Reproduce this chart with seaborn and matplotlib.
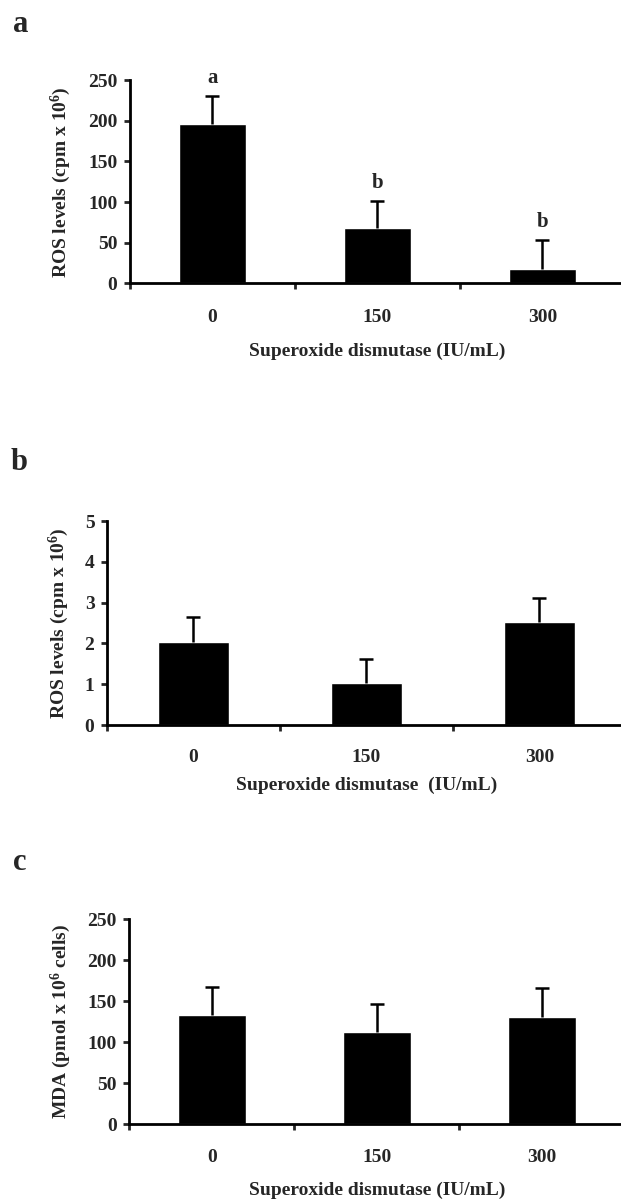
import numpy as np
import pandas as pd
import seaborn as sns
import matplotlib.pyplot as plt

# values
doses = ["0", "150", "300"]

ros_a_mean = [196, 68, 18]
ros_a_sd = [34, 33, 35]
ros_a_letters = ["a", "b", "b"]

ros_b_mean = [2.04, 1.02, 2.53]
ros_b_sd = [0.61, 0.61, 0.58]

mda_mean = [133, 112, 131]
mda_sd = [34, 34, 35]

sns.set_style("ticks")
plt.rcParams["font.family"] = ["Liberation Serif", "DejaVu Serif"]
plt.rcParams["font.weight"] = "bold"
plt.rcParams["mathtext.default"] = "regular"

FS = 14
LW = 2.0

fig = plt.figure(figsize=(6.21, 12), dpi=100)


def panel(rect, means, sds, ymax, ystep, ylabel, xlabel, ylab_x, xlab_y, tick_pad, letters=None):
    ax = fig.add_axes(rect)
    df = pd.DataFrame({"dose": doses, "value": means})
    sns.barplot(data=df, x="dose", y="value", order=doses, color="black",
                saturation=1, width=0.41, errorbar=None, ax=ax)
    xs = [p.get_x() + p.get_width() / 2 for p in ax.patches]
    eb = ax.errorbar(xs, means, yerr=[np.zeros(len(sds)), sds], fmt="none",
                     ecolor="black", elinewidth=1.8, capsize=4.8, capthick=1.8)
    # only the upper cap is drawn in the original
    eb[1][0].set_visible(False)
    if letters:
        for x, m, s, t in zip(xs, means, sds, letters):
            ax.annotate(t, xy=(x, m + s), xytext=(0, 13), textcoords="offset points",
                        ha="center", va="center", fontsize=FS + 1, fontweight="bold")
    ax.set_xlim(-0.5, 2.5)
    ax.set_ylim(0, ymax)
    ax.set_yticks(np.arange(0, ymax + ystep / 2, ystep))
    ax.set_xticks([0, 1, 2])
    ax.set_xticks([-0.5, 0.5, 1.5], minor=True)
    ax.tick_params(axis="x", which="major", length=0, pad=tick_pad, labelsize=FS)
    ax.tick_params(axis="x", which="minor", length=4, width=LW, direction="out")
    ax.tick_params(axis="y", length=4, width=LW, pad=5, labelsize=FS)
    for lab in ax.get_xticklabels() + ax.get_yticklabels():
        lab.set_fontweight("bold")
    for side in ["top", "right"]:
        ax.spines[side].set_visible(False)
    for side in ["left", "bottom"]:
        ax.spines[side].set_linewidth(LW)
        ax.spines[side].set_color("black")
    ax.set_xlabel(xlabel, fontsize=FS, fontweight="bold", va="center")
    ax.xaxis.set_label_coords(0.5, xlab_y)
    ax.set_ylabel(ylabel, fontsize=FS, fontweight="bold", va="center")
    ax.yaxis.set_label_coords(ylab_x, 0.5)
    return ax


panel([0.2093, 0.7639, 0.797, 0.1694], ros_a_mean, ros_a_sd, 250, 50,
      "ROS levels (cpm x 10$^6$)", "Superoxide dismutase (IU/mL)",
      -0.139, -0.334, 18.5, letters=ros_a_letters)

panel([0.1723, 0.3958, 0.8357, 0.170], ros_b_mean, ros_b_sd, 5, 1,
      "ROS levels (cpm x 10$^6$)", "Superoxide dismutase  (IU/mL)",
      -0.092, -0.294, 17)

panel([0.2085, 0.0633, 0.797, 0.1706], mda_mean, mda_sd, 250, 50,
      "MDA (pmol x 10$^6$ cells)", "Superoxide dismutase (IU/mL)",
      -0.138, -0.322, 18)

for lbl, x, y in [("a", 21, 24), ("b", 19.5, 463), ("c", 20, 863)]:
    fig.text(x / 621, 1 - y / 1200, lbl, ha="center", va="center",
             fontsize=22, fontweight="bold")

fig.savefig("out.png", dpi=100)
